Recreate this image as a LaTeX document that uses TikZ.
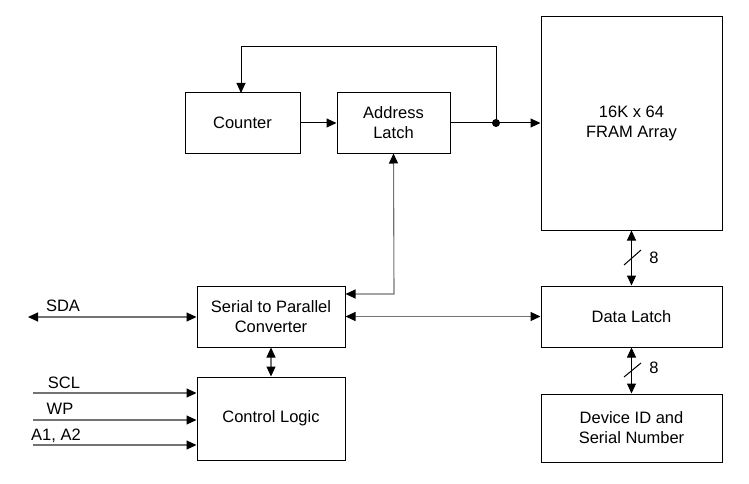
\documentclass[tikz,border=0pt]{standalone}
\usepackage{fontspec}
\setmainfont{Liberation Sans}
\usetikzlibrary{arrows.meta}
\tikzset{
  box/.style = {draw, line width = 1pt, align = center, inner sep = 0pt},
  arr/.tip = {Triangle[length = 10pt, width = 9pt, color = black]},
  wire/.style = {line width = 1pt},
  gwire/.style = {line width = 1.1pt, black!55}
}
\begin{document}
\begin{tikzpicture}[x = 1pt, y = -1pt, font = \fontsize{16.5}{20}\selectfont]
  \useasboundingbox (0, 0) rectangle (749, 484);
  \node (counter) at (242.5, 123) [box, minimum width = 115pt, minimum height = 60pt] {Counter};
  \node (addr) at (393.5, 123) [box, minimum width = 113pt, minimum height = 60pt] {Address\\Latch};
  \node (fram) at (631.5, 123.5) [box, minimum width = 181pt, minimum height = 213pt] {16K x 64\\FRAM Array};
  \node (spc) at (271, 316.5) [box, minimum width = 148pt, minimum height = 61pt] {Serial to Parallel\\Converter};
  \node (dlatch) at (631.5, 316.5) [box, minimum width = 181pt, minimum height = 61pt] {Data Latch};
  \node (ctrl) at (271, 418.5) [box, minimum width = 148pt, minimum height = 83pt] {Control Logic};
  \node (devid) at (631.5, 428) [box, minimum width = 181pt, minimum height = 68pt] {Device ID and\\Serial Number};
  % address path
  \draw [wire, -arr] (counter) -- (addr);
  \draw [wire, -arr] (addr) -- (fram.west |- addr);
  \coordinate (split) at (496, 123);
  \fill (split) circle [radius = 4pt];
  \draw [wire, -arr] (split) -- (496, 47) -- (241, 47) -- (241, 93);
  \draw [gwire, arr-arr] (addr.south) -- (394, 294) -- (spc.east |- 0, 294);
  % data path
  \draw [gwire, arr-arr] (spc) -- (dlatch);
  \draw [wire, arr-arr] (fram.south) -- (dlatch.north);
  \draw [wire, arr-arr] (dlatch.south) -- (devid.north);
  \draw [wire] (624, 265) -- (641, 250);
  \node at (654, 258) {8};
  \draw [wire] (624, 377) -- (641, 363);
  \node at (654, 368) {8};
  % serial interface
  \coordinate (sda) at (28, 317);
  \draw [gwire, arr-arr] (sda) -- (spc.west |- sda);
  \node at (63, 306) {SDA};
  \draw [gwire, arr-arr] (spc.south) -- (ctrl.north);
  \draw [gwire, -arr] (33, 393) -- (ctrl.west |- 0, 393);
  \node at (64, 383) {SCL};
  \draw [gwire, -arr] (33, 420) -- (ctrl.west |- 0, 420);
  \node at (60, 409) {WP};
  \draw [gwire, -arr] (33, 445) -- (ctrl.west |- 0, 445);
  \node at (56, 436) {A1, A2};
\end{tikzpicture}
\end{document}
